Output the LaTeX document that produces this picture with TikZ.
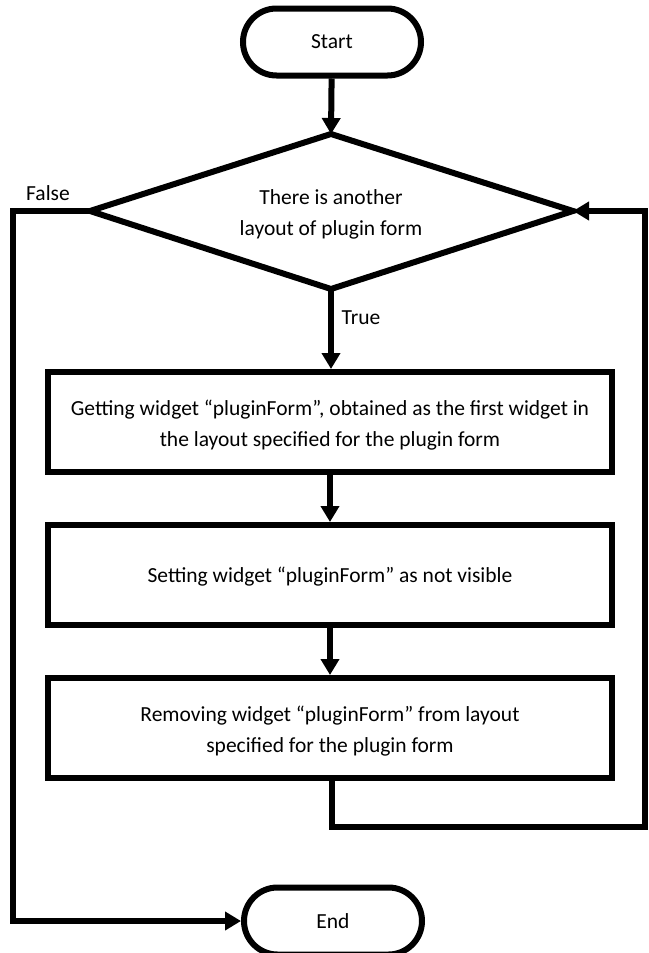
\documentclass[tikz,border=0pt]{standalone}
\usepackage{fontspec}
\setmainfont{Carlito}
\usetikzlibrary{shapes.misc,arrows.meta}
\begin{document}
\begin{tikzpicture}[x=1pt,y=-1pt,
  every node/.style={font=\fontsize{21.5}{31}\selectfont, align=center},
  term/.style={draw, line width=6pt, rounded rectangle, minimum width=178pt, minimum height=67pt, inner sep=0pt},
  process/.style={draw, line width=6pt, rectangle, minimum width=564pt, minimum height=100pt, inner sep=0pt},
  flow/.style={line width=6pt, -{Triangle[length=16pt,width=18pt]}},
  edge/.style={line width=6pt, line join=miter}]
\useasboundingbox (0,0) rectangle (648,953);

\node[term] (start) at (332,42) {Start};

% decision diamond drawn from its four corners
\coordinate (dn) at (331,134);
\coordinate (dw) at (90,211);
\coordinate (de) at (573,211);
\coordinate (ds) at (331,289);
\draw[edge] (dn) -- (de) -- (ds) -- (dw) -- cycle;
\node (dec) at (331,214) {There is another\\layout of plugin form};

\node[process] (p1) at (330,422) {};
\node (t1) at (330,425) {Getting widget “pluginForm”, obtained as the first widget in\\the layout specified for the plugin form};
\node[process] (p2) at (330,575) {};
\node (t2) at (330,577) {Setting widget “pluginForm” as not visible};
\node[process] (p3) at (330,728) {};
\node (t3) at (330,731) {Removing widget “pluginForm” from layout\\specified for the plugin form};
\node[term] (end) at (333,921) {End};

\node (lfalse) at (48,193) {False};
\node (ltrue) at (361,318) {True};

\coordinate (lc1) at (13,211);
\coordinate (lc2) at (13,921);
\coordinate (rc1) at (332,827);
\coordinate (rc2) at (645,827);
\coordinate (rc3) at (645,211);

\draw[flow] (start) -- (dn);
\draw[flow] (ds) -- (ds |- p1.north);
\draw[flow] (p1) -- (p2);
\draw[flow] (p2) -- (p3);
\draw[flow] (dw) -- (lc1) -- (lc2) -- (end.west);
\draw[flow] (p3.south -| rc1) -- (rc1) -- (rc2) -- (rc3) -- (de);
\end{tikzpicture}
\end{document}
